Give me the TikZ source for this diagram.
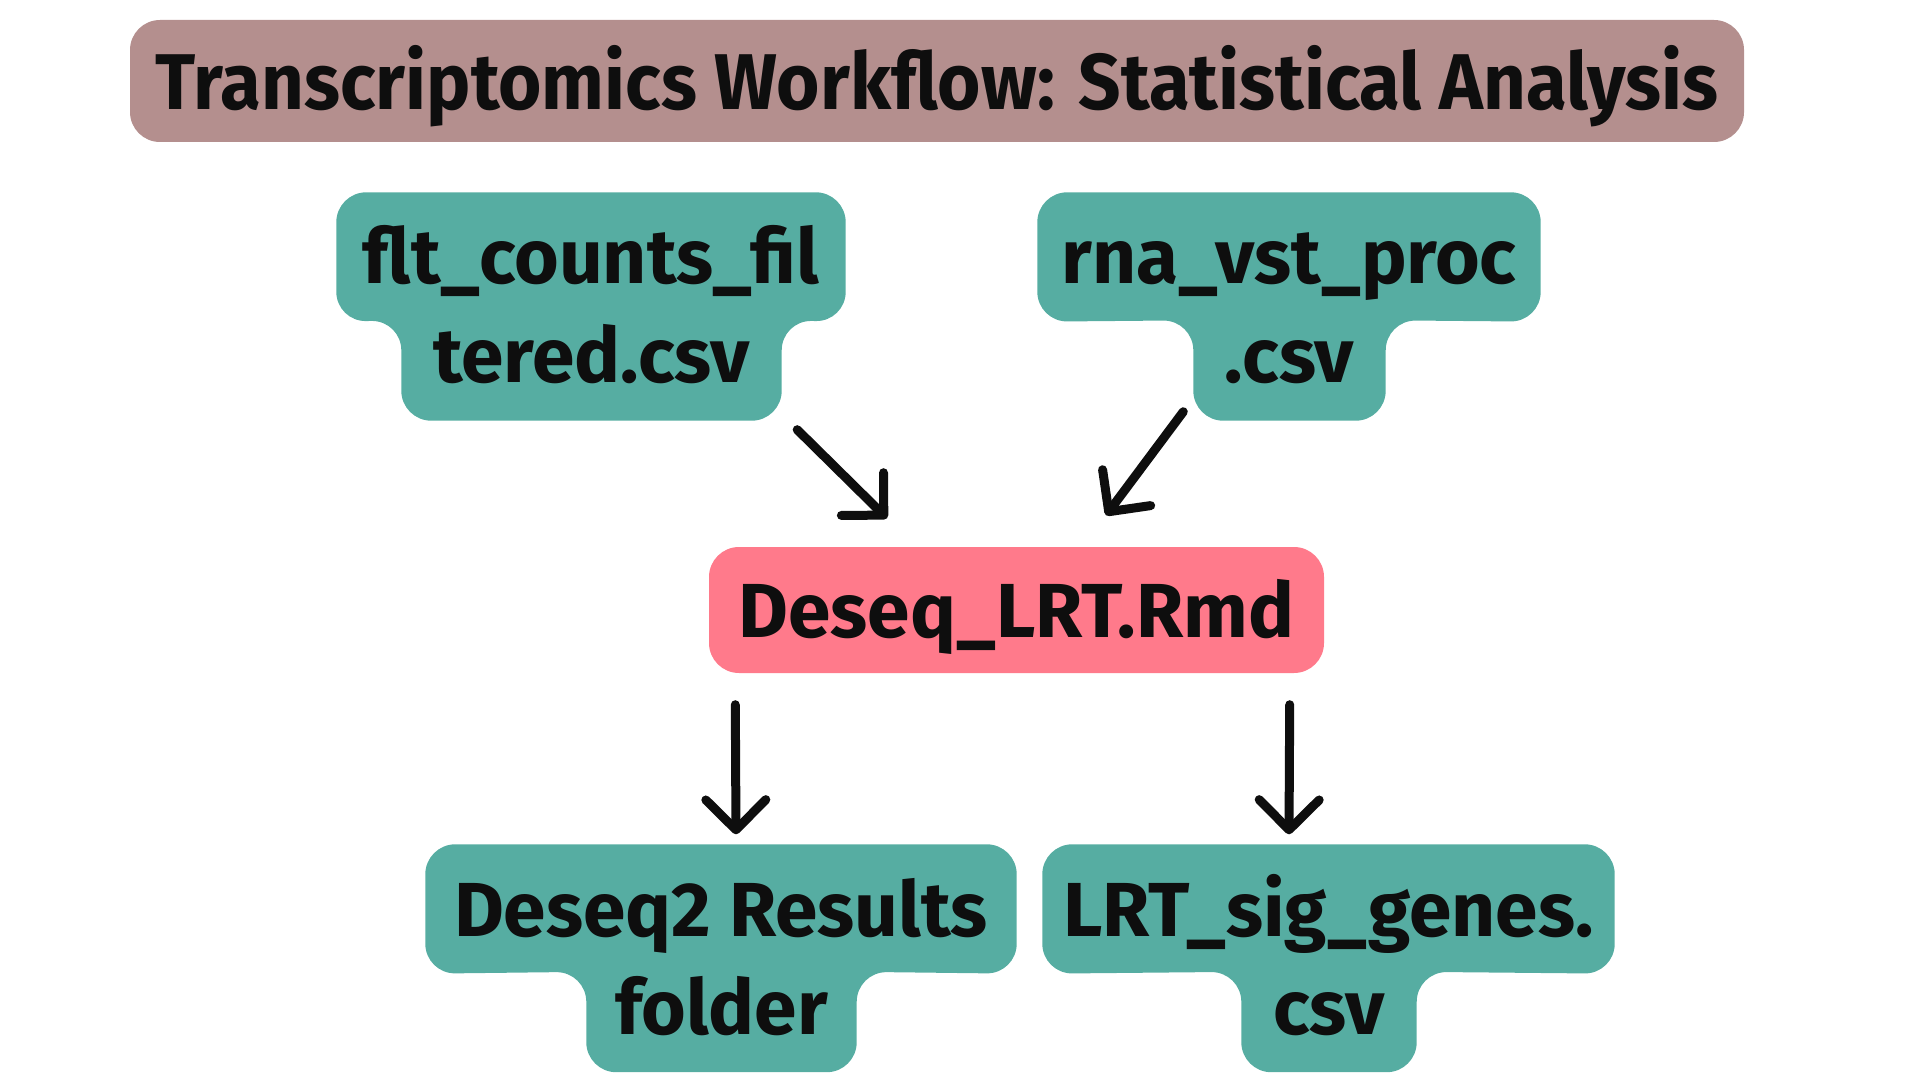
\documentclass[tikz,border=0pt]{standalone}
\usepackage{fontspec}
\setmainfont{Fira Sans}
\newfontfamily\titlefont[FakeStretch=0.94]{Fira Sans}
\usepackage{tikz}
\usetikzlibrary{arrows.meta, backgrounds}
\usepackage{xcolor}

\definecolor{titlerose}{HTML}{B48F8E}
\definecolor{fileteal}{HTML}{56ADA2}
\definecolor{scriptpink}{HTML}{FF7A8B}
\definecolor{inkblack}{HTML}{0E0E0E}

% T-shaped file box behind an upper and a lower node
\newcommand{\filebox}[2]{%
  \fill[fileteal, rounded corners=0.3cm]
    (#1.north west) -- (#1.north east) -- (#1.south east)
    -- (#2.north east) -- (#2.south east) -- (#2.south west)
    -- (#2.north west) -- (#1.south west) -- cycle;}

\begin{document}
\begin{tikzpicture}[
    headbox/.style={fill=titlerose, rounded corners=0.3cm, inner sep=0pt,
      minimum width=16.14cm, minimum height=1.22cm,
      text height=0.66cm, text depth=0.08cm, text=inkblack,
      font=\titlefont\fontsize{22.5}{26}\selectfont\bfseries},
    uppart/.style={inner sep=0pt, minimum height=1.28cm,
      text height=0.62cm, text depth=0.08cm, text=inkblack,
      font=\fontsize{21.8}{26}\selectfont\bfseries},
    lowpart/.style={uppart, minimum height=0.99cm,
      text height=0.62cm, text depth=0.37cm},
    script/.style={uppart, fill=scriptpink, rounded corners=0.3cm,
      minimum height=1.26cm},
    flow/.style={draw=inkblack, line width=0.09cm, line cap=round,
      -{Straight Barb[length=0.3cm, width=0.6cm, round]}},
  ]
    \useasboundingbox (0,0) rectangle (19.2,-10.8);
    % title
    \node[headbox] (head) at (9.37,-0.81) {Transcriptomics Workflow: Statistical Analysis};
    % input files
    \node[uppart,  minimum width=5.08cm] (cntTop) at (5.91,-2.57)   {flt\_counts\_fil};
    \node[lowpart, minimum width=3.79cm] (cntBot) at (5.915,-3.705) {tered.csv};
    \node[uppart,  minimum width=5.02cm] (vstTop) at (12.89,-2.57)  {rna\_vst\_proc};
    \node[lowpart, minimum width=1.91cm] (vstBot) at (12.895,-3.705) {.csv};
    % script
    \node[script, minimum width=6.15cm] (lrt) at (10.165,-6.10) {Deseq\_LRT.Rmd};
    % outputs
    \node[uppart,  minimum width=5.90cm] (resTop) at (7.21,-9.09)   {Deseq2 Results};
    \node[lowpart, minimum width=2.69cm] (resBot) at (7.215,-10.22) {folder};
    \node[uppart,  minimum width=5.71cm] (sigTop) at (13.285,-9.09) {LRT\_sig\_genes.};
    \node[lowpart, minimum width=1.74cm] (sigBot) at (13.29,-10.22) {csv};
    \begin{scope}[on background layer]
      \filebox{cntTop}{cntBot}
      \filebox{vstTop}{vstBot}
      \filebox{resTop}{resBot}
      \filebox{sigTop}{sigBot}
    \end{scope}
    % arrows into the script
    \draw[flow] ([shift={(0.155,-0.09)}]cntBot.south east) -- ([shift={(-1.295,0.28)}]lrt.north);
    \draw[flow] ([shift={(-0.10,0.09)}]vstBot.south west) -- ([shift={(0.895,0.31)}]lrt.north);
    % arrows to the outputs
    \draw[flow] ([shift={(0.27,-0.31)}]lrt.south west) -- ([shift={(0.15,0.10)}]resTop.north);
    \draw[flow] ([shift={(-0.35,-0.31)}]lrt.south east) -- ([shift={(-0.395,0.10)}]sigTop.north);
\end{tikzpicture}
\end{document}
